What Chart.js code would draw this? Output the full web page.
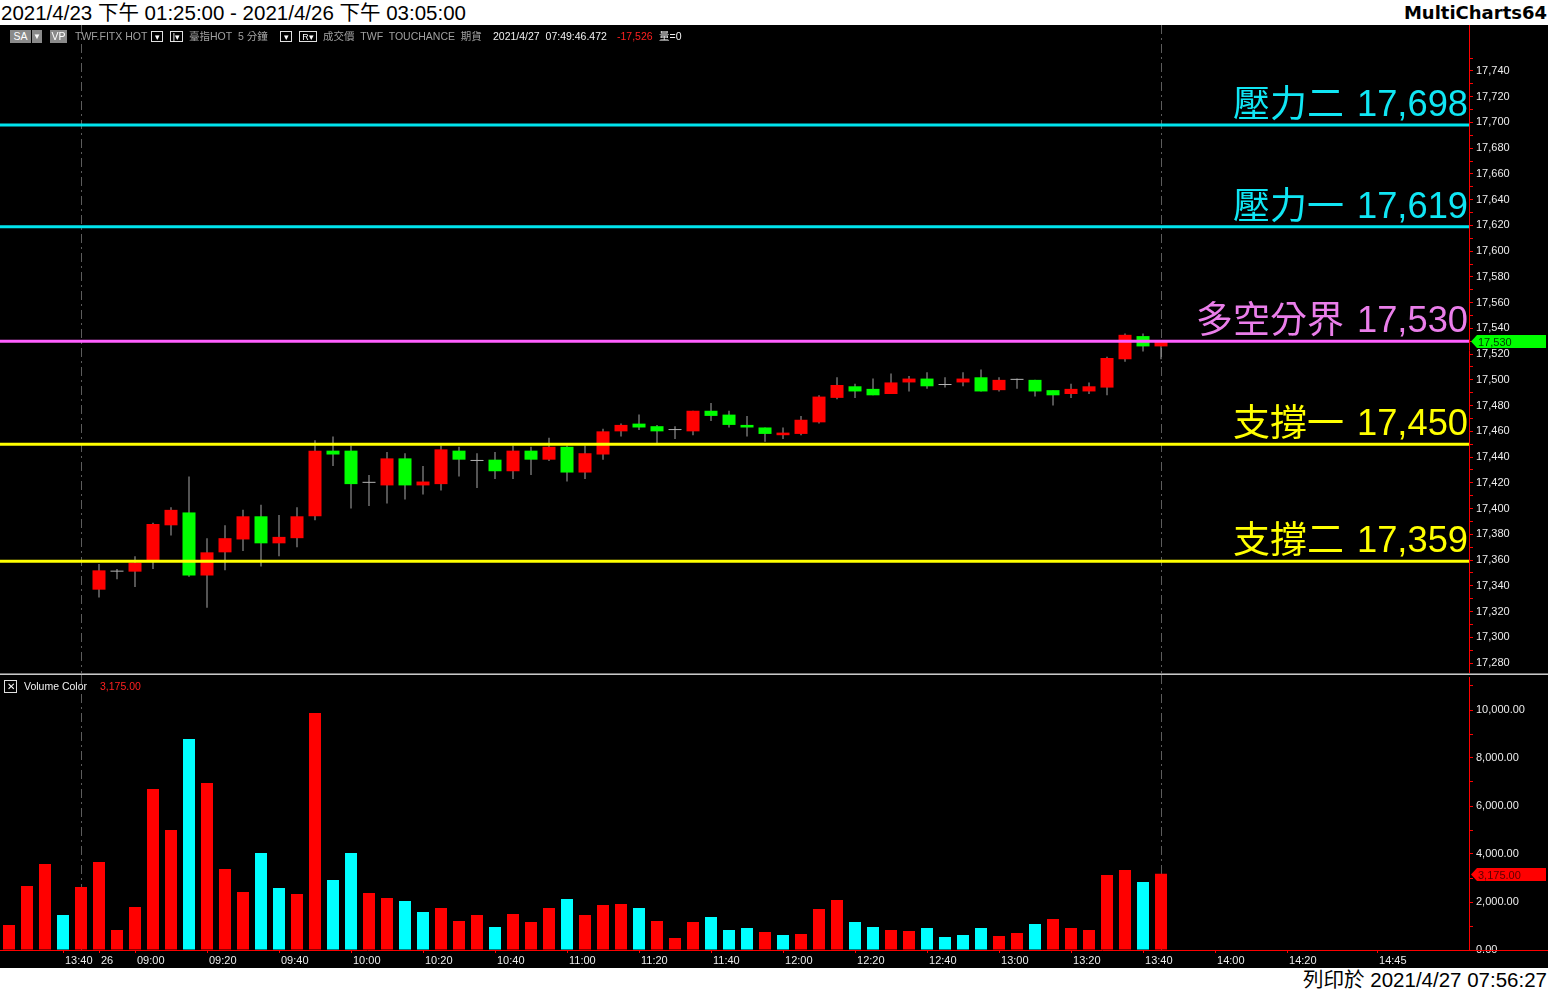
<!DOCTYPE html>
<html>
<head>
<meta charset="utf-8">
<script src="https://cdn.jsdelivr.net/npm/chart.js@4.4.1/dist/chart.umd.min.js"></script>
<style>
body{margin:0;width:1548px;height:991px;background:#fff;overflow:hidden;position:relative;font-family:"Liberation Sans","Noto Sans CJK TC",sans-serif}
#title{position:absolute;left:0;top:0;width:1548px;height:25px;line-height:25px;font-size:20.5px;color:#000}
#title .l{position:absolute;left:1px;top:0}
#title .r{position:absolute;right:1px;top:0;font-family:"DejaVu Sans",sans-serif;font-weight:bold;font-size:18px}
#panel{position:absolute;left:0;top:25px;width:1548px;height:943px;background:#000}
#cPrice{position:absolute;left:0;top:0}
#cVol{position:absolute;left:0;top:650px}
#sep{position:absolute;left:0;top:648px;width:1548px;height:2px;background:#c8c8c8;border-top:1px solid #707070;box-sizing:border-box}
.t{position:absolute;top:5px;font-size:10.5px;line-height:13px;color:#a0a0a0;white-space:nowrap}
.gb{background:#8a8a8a;color:#fff;text-align:center}
.bx{border:1px solid #e0e0e0;color:#fff;height:11px;line-height:11px;text-align:center;font-size:9px;box-sizing:border-box;top:6px}
.w{color:#f0f0f0}
.rd{color:#ff2020}
#foot{position:absolute;right:1px;top:968px;height:23px;line-height:23px;font-size:20.5px;color:#000}
</style>
</head>
<body>
<div id="title"><span class="l">2021/4/23 下午 01:25:00 - 2021/4/26 下午 03:05:00</span><span class="r">MultiCharts64</span></div>
<div id="panel">
  <canvas id="cPrice" width="1548" height="650"></canvas>
  <canvas id="cVol" width="1548" height="293"></canvas>
  <div id="sep"></div>
  <span class="t gb" style="left:10px;width:21px">SA</span>
  <span class="t gb" style="left:32px;width:10px;font-size:8px">▼</span>
  <span class="t gb" style="left:50px;width:17px">VP</span>
  <span class="t" style="left:75px">TWF.FITX HOT</span>
  <span class="t bx" style="left:151px;width:12px">▾</span>
  <span class="t bx" style="left:170px;width:13px">|▾</span>
  <span class="t" style="left:189px">臺指HOT&nbsp; 5 分鐘</span>
  <span class="t bx" style="left:280px;width:12px">▾</span>
  <span class="t bx" style="left:299px;width:18px">R▾</span>
  <span class="t" style="left:323px">成交價&nbsp; TWF&nbsp; TOUCHANCE&nbsp; 期貨</span>
  <span class="t w" style="left:493px">2021/4/27&nbsp; 07:49:46.472</span>
  <span class="t rd" style="left:617px">-17,526</span>
  <span class="t w" style="left:659px">量=0</span>
  <span class="t" style="left:4px;top:655px;width:13px;height:13px;border:1px solid #e0e0e0;box-sizing:border-box;color:#fff;font-size:10px;line-height:11px;text-align:center">✕</span>
  <span class="t w" style="left:24px;top:655px">Volume Color</span>
  <span class="t rd" style="left:100px;top:655px">3,175.00</span>
</div>
<div id="foot">列印於 2021/4/27 07:56:27</div>
<script>
// 5-minute bars, index 0 = 4/23 13:25, index 5 = 4/26 08:50
const firstCandle = 5;
const opens  = [17337,17351,17351,17360,17387,17397,17348,17366,17376,17394,17373,17377,17394,17445,17445,17420,17418,17439,17418,17419,17445,17437,17438,17429,17445,17438,17448,17428,17442,17460,17466,17464,17461,17460,17476,17473,17465,17463,17457,17458,17467,17486,17495,17493,17489,17498,17501,17496,17498,17502,17492,17500,17500,17492,17489,17491,17494,17516,17534,17526];
const highs  = [17357,17353,17363,17389,17401,17425,17377,17387,17399,17403,17395,17401,17453,17456,17449,17426,17444,17443,17433,17449,17448,17443,17444,17449,17448,17455,17449,17449,17462,17466,17473,17465,17464,17476,17482,17476,17472,17463,17463,17472,17488,17502,17497,17501,17505,17503,17506,17502,17506,17508,17502,17501,17500,17492,17497,17498,17518,17536,17536,17530];
const lows   = [17331,17345,17339,17353,17379,17347,17323,17352,17367,17355,17363,17370,17391,17433,17400,17402,17404,17407,17411,17414,17425,17416,17423,17423,17426,17437,17421,17423,17438,17456,17461,17451,17454,17457,17468,17463,17456,17452,17454,17457,17466,17485,17486,17488,17489,17491,17493,17494,17495,17491,17491,17493,17487,17480,17486,17489,17488,17514,17522,17516];
const closes = [17352,17351,17358,17388,17399,17348,17366,17377,17394,17373,17378,17394,17445,17442,17419,17420,17439,17418,17421,17446,17438,17437,17429,17445,17438,17448,17428,17443,17460,17465,17463,17460,17461,17476,17472,17465,17463,17458,17459,17469,17487,17496,17491,17488,17498,17501,17495,17496,17501,17491,17500,17500,17491,17488,17493,17495,17517,17535,17526,17530];

// volume from index 0, 1 = red bar, 0 = cyan bar
const volumes = [1042,2667,3583,1458,2625,3667,833,1792,6708,5000,8792,6958,3375,2417,4042,2583,2333,9875,2917,
  4042,2375,2167,2042,1583,1750,1208,1458,958,1500,1167,1750,2125,1458,1875,1917,1750,1208,500,1167,1375,833,917,750,625,667,1708,
  2083,1167,958,833,792,917,542,625,917,583,708,1083,1292,917,833,3125,3333,2833,3175];
const volUp = [1,1,1,0,1,1,1,1,1,1,0,1,1,1,0,0,1,1,0,
  0,1,1,0,0,1,1,1,0,1,1,1,0,1,1,1,0,1,1,1,0,0,0,1,0,1,1,
  1,0,0,1,1,0,0,0,0,1,1,0,1,1,1,1,1,0,1];

// support / resistance levels
const levelNames  = ['壓力二','壓力一','多空分界','支撐一','支撐二'];
const levelValues = [17698,17619,17530,17450,17359];
const levelLine   = ['#00e4ee','#00e4ee','#ff60ff','#ffff00','#ffff00'];
const levelText   = ['#10e6f4','#10e6f4','#ea7eea','#ffff00','#ffff00'];

// time axis
const tickIdx    = [3,5,7,11,15,19,23,27,31,35,39,43,47,51,55,59,63,67,71,76];
const tickLabels = ['13:40','26','09:00','09:20','09:40','10:00','10:20','10:40','11:00','11:20','11:40','12:00','12:20','12:40','13:00','13:20','13:40','14:00','14:20','14:45'];
const sessionEnds = [4,64];

const priceTicks = [];
for (let v = 17280; v <= 17750; v += 10) priceTicks.push(v);
const volTicks = [];
for (let v = 0; v <= 11000; v += 1000) volTicks.push(v);

const X_MIN = -0.5, X_MAX = 81.11;
const FONT = '"Liberation Sans", Arial, sans-serif';

const wickData = opens.map((o,i)=>({x:i+firstCandle, y:[lows[i], highs[i]]}));
const bodyData = opens.map((o,i)=>({x:i+firstCandle, y:[opens[i], closes[i]]}));
function bodyColor(i){
  if (closes[i] > opens[i]) return '#ff0000';
  if (closes[i] < opens[i]) return '#00ff00';
  return '#b4b4b4';
}

function fixPad(s){ s.paddingTop = 0; s.paddingBottom = 0; s.paddingLeft = 0; s.paddingRight = 0; }

function drawTag(chart, value, text, bg, fg){
  const {ctx, chartArea, scales:{y}} = chart;
  const py = Math.round(y.getPixelForValue(value)) + 0.5;
  const x0 = chartArea.right + 2, x1 = chart.width - 2;
  ctx.save();
  ctx.fillStyle = bg;
  ctx.beginPath();
  ctx.moveTo(x0, py); ctx.lineTo(x0 + 6, py - 6.5); ctx.lineTo(x1, py - 6.5);
  ctx.lineTo(x1, py + 6.5); ctx.lineTo(x0 + 6, py + 6.5); ctx.closePath();
  ctx.fill();
  ctx.fillStyle = fg;
  ctx.font = '11px ' + FONT;
  ctx.textAlign = 'left'; ctx.textBaseline = 'middle';
  ctx.fillText(text, x0 + 7, py + 1);
  ctx.restore();
}

const sessionPlugin = {
  id: 'sessions',
  beforeDatasetsDraw(chart){
    const {ctx, chartArea, scales:{x}} = chart;
    ctx.save();
    ctx.strokeStyle = '#5c5c5c';
    ctx.lineWidth = 1;
    ctx.setLineDash([9,4,2,4]);
    sessionEnds.forEach(k => {
      const px = Math.round(x.getPixelForValue(k)) + 0.5;
      ctx.beginPath(); ctx.moveTo(px, 0); ctx.lineTo(px, chartArea.bottom); ctx.stroke();
    });
    ctx.restore();
  }
};

const levelPlugin = {
  id: 'levels',
  afterDatasetsDraw(chart){
    const {ctx, chartArea, scales:{y}} = chart;
    ctx.save();
    ctx.textAlign = 'right'; ctx.textBaseline = 'alphabetic';
    levelValues.forEach((v,i) => {
      const py = y.getPixelForValue(v) - 9;
      const num = v.toLocaleString('en-US');
      ctx.fillStyle = levelText[i];
      ctx.font = '36.3px "Liberation Sans", sans-serif';
      const w = ctx.measureText(num).width;
      ctx.fillText(num, chartArea.right - 1, py);
      ctx.font = '37px "Noto Sans CJK TC", sans-serif';
      ctx.fillText(levelNames[i], chartArea.right - 1 - w - 13, py + 1);
    });
    ctx.restore();
  },
  afterDraw(chart){
    drawTag(chart, closes[closes.length-1], closes[closes.length-1].toLocaleString('en-US'), '#00ff00', '#003a00');
  }
};

const levelSets = levelValues.map((v,i) => ({
  type: 'line',
  data: [{x:X_MIN, y:v}, {x:X_MAX, y:v}],
  borderColor: levelLine[i],
  borderWidth: 3,
  pointRadius: 0,
  order: 0
}));

new Chart(document.getElementById('cPrice'), {
  type: 'bar',
  data: {
    datasets: [
      {data: wickData, backgroundColor: '#a8a8a8', barThickness: 1, grouped: false, order: 2, inflateAmount: 0},
      {data: bodyData, backgroundColor: c => bodyColor(c.dataIndex), barThickness: 13, minBarLength: 1, grouped: false, order: 1, inflateAmount: 0},
      ...levelSets
    ]
  },
  options: {
    responsive: false, animation: false, events: [],
    layout: {padding: 0},
    plugins: {legend: {display: false}, tooltip: {enabled: false}},
    scales: {
      x: {type: 'linear', min: X_MIN, max: X_MAX, offset: false, display: false},
      y: {
        position: 'right', min: 17270.7, max: 17775.7,
        afterBuildTicks: s => { s.ticks = priceTicks.map(v => ({value: v})); },
        afterFit: s => { s.width = 79; fixPad(s); },
        ticks: {autoSkip: false, padding: 3, color: '#ececec', font: {size: 11, family: FONT},
          callback: v => v % 20 === 0 ? v.toLocaleString('en-US') : ''},
        grid: {drawOnChartArea: false, color: '#ff0000', tickLength: 4},
        border: {color: '#ff0000'}
      }
    }
  },
  plugins: [sessionPlugin, levelPlugin]
});

const volPlugin = {
  id: 'volExtra',
  afterDraw(chart){
    const {ctx, chartArea} = chart;
    ctx.save();
    ctx.strokeStyle = '#ff0000'; ctx.lineWidth = 1;
    ctx.beginPath(); ctx.moveTo(chartArea.right, chartArea.bottom + 0.5); ctx.lineTo(chart.width, chartArea.bottom + 0.5); ctx.stroke();
    ctx.restore();
    const last = volumes[volumes.length-1];
    drawTag(chart, last, last.toLocaleString('en-US', {minimumFractionDigits: 2}), '#ff0000', '#5a0000');
  }
};

new Chart(document.getElementById('cVol'), {
  type: 'bar',
  data: {
    datasets: [{
      data: volumes.map((v,i) => ({x: i, y: v})),
      backgroundColor: c => volUp[c.dataIndex] ? '#ff0000' : '#00ffff',
      barThickness: 12, grouped: false, inflateAmount: 0
    }]
  },
  options: {
    responsive: false, animation: false, events: [],
    layout: {padding: {top: 2}},
    plugins: {legend: {display: false}, tooltip: {enabled: false}},
    scales: {
      x: {
        type: 'linear', min: X_MIN, max: X_MAX, offset: false,
        afterBuildTicks: s => { s.ticks = tickIdx.map(v => ({value: v})); },
        afterFit: s => { s.height = 18; fixPad(s); },
        ticks: {autoSkip: false, maxRotation: 0, align: 'start', labelOffset: 2, padding: 1, color: '#ececec', font: {size: 11, family: FONT},
          callback: (v, i) => tickLabels[i]},
        grid: {drawOnChartArea: false, offset: false, color: '#ff0000', tickLength: 3},
        border: {color: '#ff0000'}
      },
      y: {
        position: 'right', min: 0, max: 11375,
        afterBuildTicks: s => { s.ticks = volTicks.map(v => ({value: v})); },
        afterFit: s => { s.width = 79; fixPad(s); },
        ticks: {autoSkip: false, padding: 3, color: '#ececec', font: {size: 11, family: FONT},
          callback: v => v % 2000 === 0 ? v.toLocaleString('en-US', {minimumFractionDigits: 2}) : ''},
        grid: {drawOnChartArea: false, color: '#ff0000', tickLength: 4},
        border: {color: '#ff0000'}
      }
    }
  },
  plugins: [sessionPlugin, volPlugin]
});
</script>
</body>
</html>
